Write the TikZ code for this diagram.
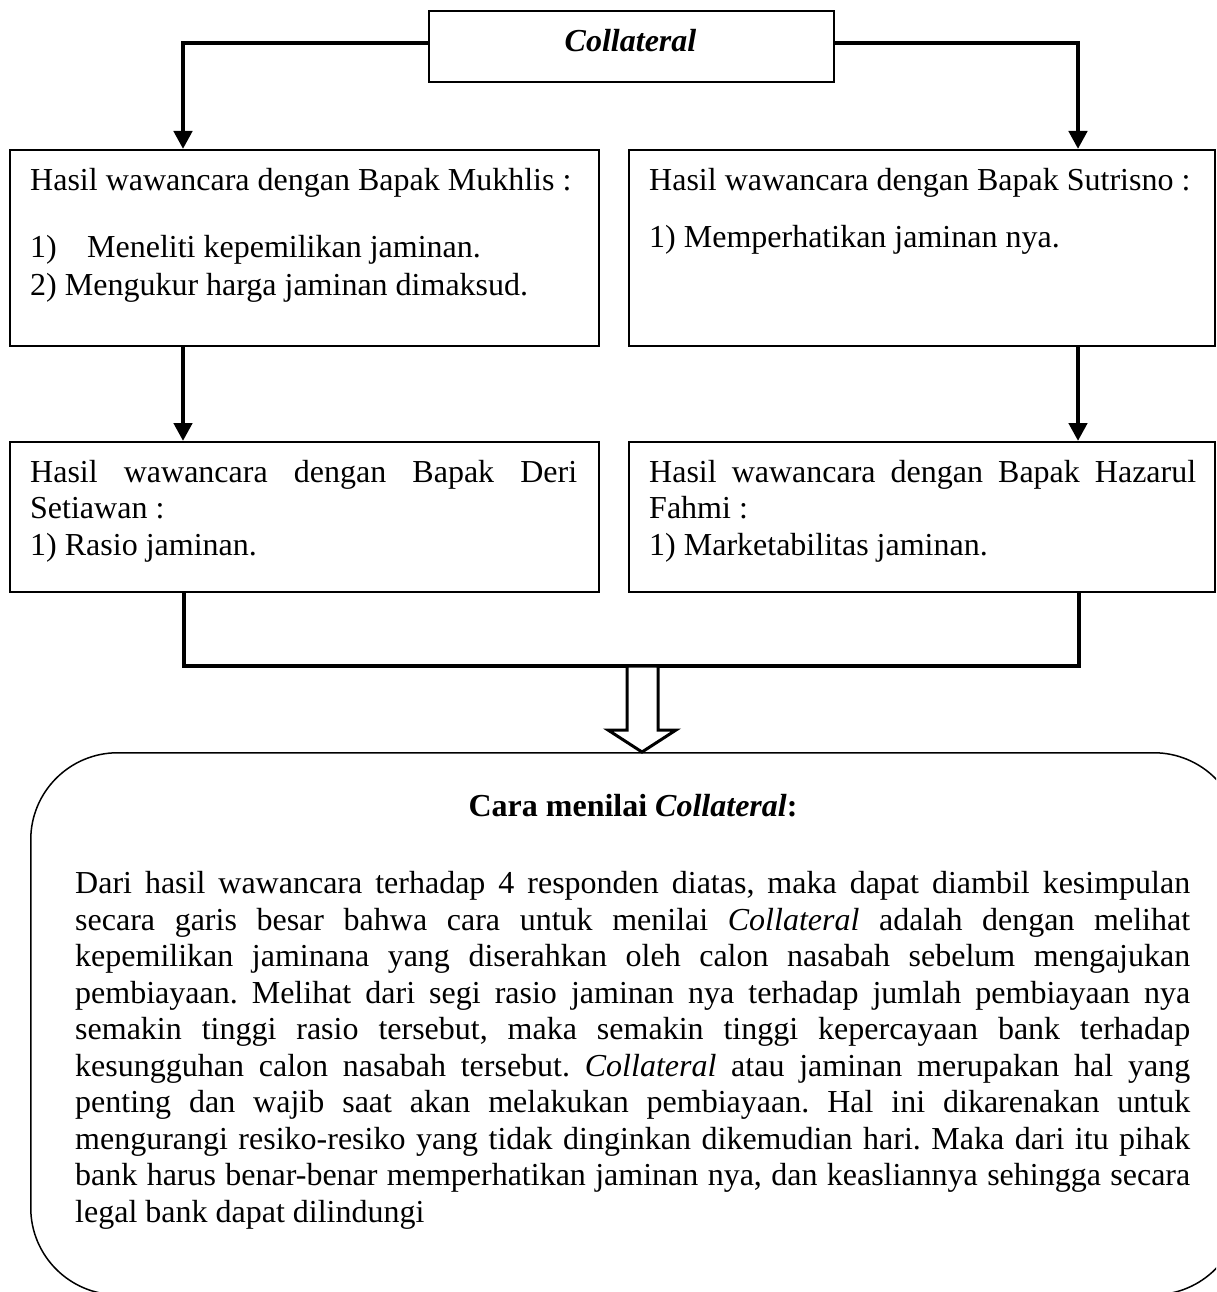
\documentclass[tikz,border=0pt]{standalone}
\usepackage{fontspec}
\setmainfont{Liberation Serif}
\usetikzlibrary{arrows.meta}
\frenchspacing
\begin{document}
\begin{tikzpicture}[x=1pt,y=-1pt,
  boxr/.style={draw, line width=2pt, anchor=north west, inner sep=0pt},
  conn/.style={line width=4.5pt, -{Triangle[width=18pt,length=18pt]}},
  link/.style={line width=4.5pt},
  hollow/.style={draw, fill=white, line width=3pt, line join=miter},
  txt/.style={anchor=base west, inner sep=0pt, font=\fontsize{32}{36.5}\selectfont},
]
\useasboundingbox (0,0) rectangle (1216,1292);
\clip (0,0) rectangle (1216,1292);

% boxes
\node[boxr, minimum width=405pt, minimum height=71pt] (top) at (428,10) {};
\node[boxr, minimum width=589pt, minimum height=196pt] (b1) at (9,149) {};
\node[boxr, minimum width=586pt, minimum height=196pt] (b2) at (628,149) {};
\node[boxr, minimum width=589pt, minimum height=150pt] (b3) at (9,441) {};
\node[boxr, minimum width=586pt, minimum height=150pt] (b4) at (628,441) {};
\node[draw, line width=1.5pt, rounded corners=87pt, anchor=north west, inner sep=0pt,
      minimum width=1210pt, minimum height=542pt] (concl) at (30,752) {};

% connectors
\draw[conn] ([yshift=3.5pt]top.west) -| ([xshift=174pt]b1.north west);
\draw[conn] ([yshift=3.5pt]top.east) -| ([xshift=450pt]b2.north west);
\draw[conn] ([xshift=174pt]b1.south west) -- ([xshift=174pt]b3.north west);
\draw[conn] ([xshift=450pt]b2.south west) -- ([xshift=450pt]b4.north west);
\draw[link] ([xshift=175pt]b3.south west) -- ++(0,73) coordinate (jl) -| ([xshift=451pt]b4.south west);
\coordinate (shaft) at (627,666);
\draw[hollow] (shaft) -- ++(0,64) -- ++(-19,0) -- (concl.north -| 642,0) -- (676,730) -- (658,730) -- (658,666) -- cycle;

% texts
\node[txt, anchor=base] (ttop) at (630.5,52) {\bfseries\itshape Collateral};

\node[txt] (t1a) at (30,190) {Hasil wawancara dengan Bapak Mukhlis :};
\node[txt] (t1b) at (30,257) {\makebox[57pt][l]{1)}Meneliti kepemilikan jaminan.};
\node[txt] (t1c) at (30,295) {2) Mengukur harga jaminan dimaksud.};

\node[txt] (t2a) at (649,190) {Hasil wawancara dengan Bapak Sutrisno :};
\node[txt] (t2b) at (649,247) {1) Memperhatikan jaminan nya.};

\node[txt] (t3a) at (30,482) {\makebox[547pt][s]{Hasil wawancara dengan Bapak Deri}};
\node[txt] (t3b) at (30,518) {Setiawan :};
\node[txt] (t3c) at (30,555) {1) Rasio jaminan.};

\node[txt] (t4a) at (649,482) {\makebox[547pt][s]{Hasil wawancara dengan Bapak Hazarul}};
\node[txt] (t4b) at (649,518) {Fahmi :};
\node[txt] (t4c) at (649,555) {1) Marketabilitas jaminan.};

\node[txt, anchor=base] (ctitle) at (633,816) {\bfseries Cara menilai \textit{Collateral}:};

\node[txt] (p1) at (75,893.5) {\makebox[1115pt][s]{Dari hasil wawancara terhadap 4 responden diatas, maka dapat diambil kesimpulan}};
\node[txt] (p2) at (75,930) {\makebox[1115pt][s]{secara garis besar bahwa cara untuk menilai \textit{Collateral} adalah dengan melihat}};
\node[txt] (p3) at (75,966.5) {\makebox[1115pt][s]{kepemilikan jaminana yang diserahkan oleh calon nasabah sebelum mengajukan}};
\node[txt] (p4) at (75,1003) {\makebox[1115pt][s]{pembiayaan. Melihat dari segi rasio jaminan nya terhadap jumlah pembiayaan nya}};
\node[txt] (p5) at (75,1039.5) {\makebox[1115pt][s]{semakin tinggi rasio tersebut, maka semakin tinggi kepercayaan bank terhadap}};
\node[txt] (p6) at (75,1076) {\makebox[1115pt][s]{kesungguhan calon nasabah tersebut. \textit{Collateral} atau jaminan merupakan hal yang}};
\node[txt] (p7) at (75,1112.5) {\makebox[1115pt][s]{penting dan wajib saat akan melakukan pembiayaan. Hal ini dikarenakan untuk}};
\node[txt] (p8) at (75,1149) {\makebox[1115pt][s]{mengurangi resiko-resiko yang tidak dinginkan dikemudian hari. Maka dari itu pihak}};
\node[txt] (p9) at (75,1185.5) {\makebox[1115pt][s]{bank harus benar-benar memperhatikan jaminan nya, dan keasliannya sehingga secara}};
\node[txt] (p10) at (75,1222) {legal bank dapat dilindungi};
\end{tikzpicture}
\end{document}
